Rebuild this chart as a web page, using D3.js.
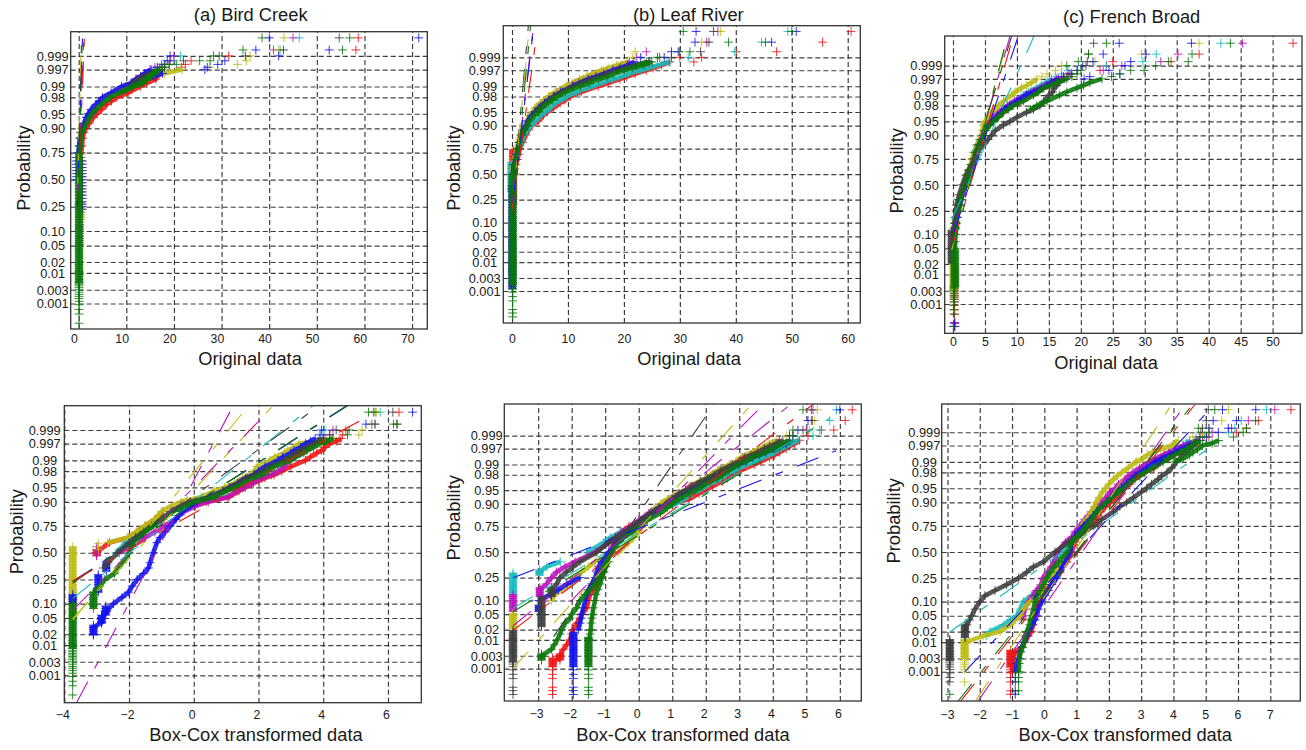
<!DOCTYPE html>
<html>
<head>
<meta charset="utf-8">
<script src="https://cdn.jsdelivr.net/npm/d3@7"></script>
<style>
  html, body { margin: 0; background: #fff; }
  text { font-family: "Liberation Sans", Arial, sans-serif; fill: #1a1a1a; }
</style>
</head>
<body>
<svg id="chart" width="1306" height="750"></svg>
<script>
// plotting positions, high to low. Each series row is read from the top of its list.
const commonProbs = [.999,.9985,.998,.9975,.997,.996,.995,.994,.992,.99,.985,.98,.975,.97,.96,.95,.94,.92,.90,.88,.85,.80,.75,.70,.65,.60,.50,.40,.35,.30,.25,.20,.16,.13,.10,.07,.05,.04,.03,.02,.015,.01,.007,.005,.003,.002,.001,.0005,.0002];
const birdProbs = [.9998,.9994,...commonProbs];
const leafProbs = [.99992,.99976,.9994,...commonProbs];
const frenchProbs = [.99988,.99965,.9993,...commonProbs];

// finer plotting positions, used where a series has long runs of tied values
const tiedProbs = [.00008,.00012,.00017,.0004,.0006,.0009,.0012,.0015,.0018,.0021,.0025,.003,.0035,.004,.0045,.005,.0056,.0063,.007,.008,.009,.01,.011,.012,.0135,.015,.017,.019,.021,.024,.027,.03,.034,.038,.042,.047,.052,.058,.065,.072,.08,.09,.10,.11,.12,.13,.145,.16,.175,.19,.21,.23,.25,.27,.29,.32,.35,.38,.41,.44,.47,.50,.53,.56,.59,.62,.65,.68,.71,.74];

const probTicks = ["0.999","0.997","0.99","0.98","0.95","0.90","0.75","0.50","0.25","0.10","0.05","0.02","0.01","0.003","0.001"];

// (a) Bird Creek, original data
const birdOrig = [
  ["r",[58.7,58.2,31.5,23.6,22.4,21.6,17.5,17,16.4,16.2,14.3,12.9,10.4,8,6.9,5.9,4.8,3.8,3.1,2.2,1.5,1.1,.85,.7,.55]],
  ["c",[46.3,42.3,21.4,20,18.2,17,15.8,14.8,13.8,12.6,11.5]],
  ["m",[45,40.9,20,19.2,17.4,16,15,14,13,12.2,11,9.8,7.4,5.6,4.7,4.2,3.5,3,2]],
  ["y",[43.1,42,36,35.2,33.3,27.5,21.7,18,14.5,13.6,12,10,7.5,5.5,4.6,3.8,2.8,2.1,1.7,1.2,.8,.5,.3,.2,.1]],
  ["b",[40,37.2,19.2,18.6,18,16.5,15.2,13.8,13,12,11,9,6.8,5,4.3,3.6,2.6,2,1.6,1.1,.7,.4,.25,.05,-.1]],
  ["b",[71.4,52.6,42,30.7,29.2,27,26.5,17.6,15.8,14,12.4,11]],
  ["k",[54.7,43,35,22,19,18,17,15,13.5,12.4,11.5,10.8]],
  ["g",[38.5,34.5,28.3,25.4,20.5,17.5,16.5,15.6,15,14.2,12.8,11.2,8.6,6.6,5.6,4.8,3.6,2.8,2.3,1.6,1.1,.7,.5,.35,.2]],
  ["g",[56.9,55.4,29.5,27.6,19,18,17,16,15.2,14.4,13.5,11.5,9]]
];
const birdOrigTies = [["r",.45,.2,.74],["b",-.45,.5,.72],["b",.75,.22,.7],["c",.1,.2,.7],["y",.4,.15,.7],["m",.2,.05,.25],["g",.07,.005,.74,1],["g",.07,.00017,.005]];
const birdOrigLines = [["m",-.28,-.76,1.12,3.72],["k",-.14,-.84,.63,3.72],["r",-.21,-.67,1.26,3.72],["y",-.28,-.51,.49,3.24],["b",-.28,-.67,.84,3.72],["g",-.07,-.84,.77,3.72]];

// (a) Bird Creek, transformed data
const birdBox = [
  ["r",[6.34,6.29,4.7,4.6,4.55,4.4,4.2,4.05,3.95,3.8,3.6,3.45,3,2.72,2.48,2.2,1.85,1.6,1.4,1.09,.4,-.1,-.95,-1.2,-1.5,-1.75,-2,-2.6,-3.02]],
  ["c",[5.76,5.6,4.05,4,3.9,3.75,3.6,3.45,3.25,3.15,2.9,2.75,2.3,2.2,1.95,1.75,1.5,1.2,.95,.55,0,-.35,-.7,-1,-1.3,-1.6,-1.85,-2.1,-2.4]],
  ["m",[5.55,5.5,4.3,4.2,4.05,3.9,3.75,3.6,3.4,3.3,3.1,2.95,2.8,2.6,2.4,2.1,1.8,1.55,1.35,1.05,.45,.05,-.3,-.6,-.9,-1.2,-1.5,-1.8,-2.3]],
  ["y",[5.65,5.5,5.2,5.1,4.3,3.9,3.25,3.1,2.9,2.8,2.5,2.35,1.95,1.87,1.72,1.51,1.26,.95,.64,.23,-.39,-.7,-1,-1.22,-1.52,-1.78,-2.05,-2.66]],
  ["b",[6.76,5.32,3.95,3.9,3.75,3.6,3.45,3.3,3.1,3,2.75,2.6,2.2,2,1.85,1.6,1.35,1.1,.9,.5,.1,-.1,-.35,-.55,-.73,-.88,-1.04,-1.14,-1.25,-1.35,-1.4,-1.55,-1.75,-1.9,-2.02,-2.22,-2.48,-2.69,-2.84,-2.84,-3.1,-3.1]],
  ["k",[6.15,5.6,4.4,4.2,4,3.85,3.7,3.5,3.3,3.15,2.95,2.8,2.35,2.1,1.9,1.65,1.4,1.15,.9,.5,-.1,-.4,-.7,-1,-1.3,-1.55,-1.8,-2,-2.35,-2.65,-2.8]],
  ["g",[5.4,6.17,4.8,4.75,4.3,4.1,3.9,3.7,3.5,3.4,3.15,3,2.5,2.3,2.1,1.85,1.55,1.3,1,.65,.05,-.3,-.65,-.95,-1.25,-1.5,-1.7,-1.85,-2,-2.2,-2.35,-2.45,-2.75,-2.9,-3.1]],
  ["g",[5.6,6.27]]
];
const birdBoxTies = [["y",-3.74,.05,.56,1],["c",-3.74,.1,.145,1],["b",-3.74,.1,.145,1],["g",-3.74,.008,.1,1],["g",-3.74,.00017,.008],["g",-3.1,.08,.16,1],["b",-2.95,.16,.29,1],["b",-2.7,.32,.41,1],["b",-3.1,.019,.034,1],["b",-2.85,.038,.058,1],["b",-2.72,.058,.09,1],["r",-3,.47,.53,1],["m",-3,.47,.56],["y",-2.95,.53,.59]];
const birdBoxLines = [["m",-3.61,-3.76,1.12,3.55],["y",-3.74,-1.7,1.59,3.6],["y",-3.74,-1.66,2.47,3.72],["m",-3.74,-1.45,2.15,3.43],["c",-3.74,-1.15,3.7,3.71],["k",-3.74,-.77,3.7,3.6],["b",-3.74,-.72,4.75,3.7],["g",-3.74,-.73,4.73,3.71],["r",-3.74,-.71,5.19,3.35]];

// (b) Leaf River, original data
const leafOrig = [
  ["r",[60.6,55.5,47.3,30,28.2,26.7,25.2,24,22,20.5,19.3,17.2,15.4,12.4,10.4,9.5,8.6,7.4,6.3,5.6,4.7,3.5,3,2.5,1.9,1.4,1.2,1,.7,.5]],
  ["r",[null,null,40.1,33.9,32.5]],
  ["c",[49.3,44.6,39.8,31.5,28,26,24.5,23,20.8,19.5,18,16,14.5,11.5,9.8,8.8,7.8,6.8,5.9,5.2,4.2,3.3,2.8,2.2,1.7,1.2,.9,.6,.2,-.1]],
  ["m",[36.8,34.8,24,22.3,21,19.5,18.2,17,15,14,12.8,11.2,10,8,6.8,6,5.4,4.4]],
  ["y",[37.3,33.9,22,21.5,20.5,18.7,17.2,16,14.2,13.3,12.1,10.7,9.5,7.7,6.5,5.7,5,4.1,3.7,3.1,2.6,2.3,1.8,1.4,1.1,.8,.6,.4,.2,-.1]],
  ["b",[32.9,32.7,29.7,23,21.8,20.6,19.3,18,16.4,15,13.6,12,10.8,8.7,7.4,6.5,5.8,4.8,4.1,3.5,2.8,2.5,2.1,1.7,1.3,1,.8,.6,.3,.1]],
  ["b",[50.8,46.4,28.5,27.2,24.5,22]],
  ["k",[36,35.2,33.7,28.5,24.5,22,20.5,19,17,15.8,14.2,12.6,11,9,7.6,6.8,6,5,4.3]],
  ["g",[30.6,45.3,29.9,26.4,25,23.5,21.5,20,18.2,17,15.5,13.8,12.2,9.6,8.2,7.2,6.5,5.4,4.8,4,3.1,2.8,2.3,1.8,1.4,1.1,.9,.7,.4,.2]],
  ["g",[50,38.7,31.8,26,24,22.5]]
];
const leafOrigTies = [["b",.05,.001,.4,1],["r",.2,.2,.74,1],["c",-.1,.3,.62,1],["g",.12,.0018,.5,1],["g",.12,.00008,.0018]];
const leafOrigLines = [["k",-.06,-1.04,2.92,3.92],["y",.12,-.86,3.1,3.95],["m",.12,-.68,3.69,3.73],["b",.12,-.77,3.81,3.81],["r",-.06,-1.04,4.4,3.68],["g",.12,-1.04,3.33,3.95]];

// (b) Leaf River, transformed data
const leafBox = [
  ["r",[6.37,6.16,5.82,5.05,4.8,4.65,4.5,4.4,4.2,4.05,3.9,3.65,3.45,3.05,2.8,2.65,2.5,2.2,2,1.8,1.5,1,.6,.35,.1,-.3,-.55,-.65,-.75,-.85,-.95,-1,-1.05,-1.15,-1.25,-1.35,-1.45,-1.5,-1.55,-1.7,-1.75,-1.85,-1.95,-2,-2.05,-2.15,-2.25,-2.35,-2.45]],
  ["r",[null,null,5.45]],
  ["c",[5.9,5.7,5.4,5.2,4.75,4.55,4.4,4.25,4.05,3.9,3.7,3.45,3.25,2.85,2.6,2.45,2.3,2,1.8,1.6,1.35,1.1,.8,.5,.1,-.2,-.55,-.85,-1.05,-1.55,-2.34,-2.74,-2.96]],
  ["m",[5.2,5.15,5,4.5,4.2,4,3.85,3.7,3.5,3.3,3.1,2.95,2.75,2.4,2.2,2.05,1.85,1.55,1.4,1.2,.9,.7,.5,.3,0,-.25,-.5,-.7,-.9,-1.3,-1.9,-2.2,-2.45,-2.6,-2.75,-2.95]],
  ["y",[5.33,5.25,5.1,4.4,4.1,3.9,3.75,3.6,3.4,3.2,3.05,2.9,2.7,2.35,2.15,2,1.8,1.5,1.4,1.15,.85,.65,.5,.35,.2,.1,0,-.15,-.3,-.6,-1.3,-1.5,-1.7,-1.9,-2.05,-2.3,-2.5,-2.6]],
  ["b",[6,5.05,4.75,4.6,4.5,4.4,4.2,4.05,3.8,3.6,3.4,3.2,3,2.6,2.4,2.2,2,1.75,1.55,1.3,1,.8,.6,.4,.1,-.1,-.3,-.5,-.65,-.9,-1.1,-1.2,-1.25,-1.3,-1.4,-1.5,-1.55,-1.6,-1.65,-1.7,-1.72,-1.75,-1.8]],
  ["b",[-1.75,-2.14,-2.4,-2.64,-2.98],.25],
  ["k",[5.15,5.18,4.9,4.5,4.3,4.1,3.9,3.75,3.55,3.35,3.15,3,2.8,2.45,2.25,2.05,1.85,1.6,1.4,1.2,1,.8,.6,.35,.05,-.2,-.45,-.7,-.9,-1.25,-1.75,-1.95,-2.15,-2.35,-2.45,-2.6]],
  ["g",[4.9,null,4.6,4.6,4.5,4.3,4.15,4,3.8,3.6,3.4,3.2,3,2.7,2.5,2.35,2.15,1.9,1.7,1.5,1.2,1,.85,.65,.25,0,-.2,-.45,-.6,-.8,-.95,-1.05,-1.1,-1.15,-1.3,-1.45,-1.6,-1.75,-1.85,-2,-2.05,-2.2,-2.3,-2.35,-2.43,-2.52,-2.6,-2.9]],
  ["g",[-.9,-.98,-1.03,-1.1,-1.15,-1.22,-1.28,-1.3,-1.35,-1.38,-1.4,-1.42,-1.43,-1.45,-1.47],.40]
];
const leafBoxTies = [["c",-3.75,.13,.29,1],["c",-2.96,.27,.33,1],["m",-3.75,.056,.13,1],["m",-2.95,.12,.175,1],["y",-3.75,.02,.052,1],["b",-2.98,.056,.085,1],["k",-2.9,.024,.12,1],["k",-2.6,.12,.175,1],["k",-3.75,.0018,.02,1],["k",-3.75,.00008,.0018],["r",-2.57,.0012,.0025,1],["r",-2.57,.00008,.0012],["r",-2.35,.002,.0036,1],["b",-1.95,.0012,.018,1],["b",-1.95,.00008,.0012],["g",-2.9,.002,.0035,1],["g",-1.5,.0012,.012,1],["g",-1.5,.00008,.0012]];
const leafBoxLines = [["k",-2.54,-2.24,2.27,3.95],["y",-3.75,-3.08,3.36,3.91],["m",-2.04,-1.31,3.61,3.82],["m",-3.75,-1.95,4.45,3.86],["r",-3.75,-2.07,5.25,3.95],["g",-3.75,-1.58,5.4,3.38],["c",-3.75,-1.49,5.7,3.55],["b",-3.75,-.68,5.89,2.69]];

// (c) French Broad, original data
const frenchOrig = [
  ["r",[53.2,38.5,25,24,23,18.5,17.8,17,15.8,15,14.2,13,12,10.5,9.3,8.5,7.8,7,6.2,5.6,5,4.6,4.2,3.8,3.3,3,2.8,2.5,2.2,1.8,1.3,1.1,.9,.7,.5,.4]],
  ["r",[null,null,34.1]],
  ["c",[41.9,31.8,29.7,24,18,17,16,15.4,14.5,13.8,13,11.8,11,9.6,8.6,7.8,7.2,6.6,5.9,5.4,4.9,4.5,4.2,3.8,3.2]],
  ["m",[45.3,35.2,32.5,26.4,23.5,18,17,16.2,15.2,14.4,13.6,12.2,11.3,9.6,8.5,7.7,7.1,6.3,5.8,5.2]],
  ["y",[38.5,29.5,22.2,17,16,14.7,13.9,13.1,12.3,11.5,10.7,9.7,9.2,7.9,7.1,6.6,6,5.5,5,4.7,4.6,4.4,4.1,3.7,3.3,3,2.8,2.5,2.2,1.8,1.3]],
  ["b",[26,23.5,21.9,20.3,19.4,18.3,17.3,16.5,15.4,14.7,13.9,12.6,11.5,10,8.9,8.1,7.6,6.8,6,5.5,5,4.7,4.4,4,3.6,3.4,3.1,2.8,2.5,2.1,1.5,1.3,1.1,.9,.6,.4,.3,.25]],
  ["b",[37.3,30.2,27.8,26.9,24.4,26.1,21.4,20.5]],
  ["k",[22,21.2,21,20.8,19.5,18.6,18,17.4,16.6,16.2,15.8,15.6,15,14.2,13.6,12.6,11.5,10,8.9,7.9,6.6,6,5.5,4.7,3.8,3.4,2.9,2.4,2,1.45,.95,.75,.55,.45,.3,.2,.15,.1,.05,0]],
  ["g",[24,21.2,19.6,17.8,20,19.4,18.6,17.8,16.2,15.2,14.1,13.4,12.6,11,9.4,8.7,7.9,7.1,6.3,5.8,5,4.8,4.4,4.1,3.5,3.3,3,2.7,2.4,1.9,1.4,1.2,1,.85,.7,.55,.45,.4,.35,.33]],
  ["g",[43.4,37.4,36.8,31.7,29.9,26.1,24.8,23.3,21.4,20.4,19.4,17.8,16.7,14.7,13.1,12.1]],
  ["g",[null,null,33.7,null,27.8]]
];
const frenchOrigTies = [["k",-.2,.02,.12,1],["y",.1,.003,.03,1],["r",.25,.00012,.02],["m",.2,.00012,.00017],["b",.3,.00012,.00017],["g",.3,.004,.05,1],["g",.15,.0004,.004],["g",.05,.00012,.00012]];
const frenchOrigLines = [["y",-.2,-1.69,8.66,3.87],["m",.05,-1.26,8.92,3.86],["r",.05,-1.52,9.44,3.86],["b",.05,-1.26,10.2,3.86],["c",-.2,-.91,12.68,3.86],["k",.05,-1.08,9.18,3.86],["g",.05,-1.65,8.5,3.86]];

// (c) French Broad, transformed data
const frenchBox = [
  ["r",[7.64,6.63,6.26,5.95,5.1,4.8,4.7,4.55,4.4,4.15,4,3.85,3.6,3.4,3.1,2.9,2.75,2.65,2.5,2.35,2.2,2.05,1.9,1.75,1.6,1.4,1.2,1.05,.95,.85,.7,.5,.4,.3,.2,.05,-.1,-.15,-.25,-.28,-.32,-.35,-.4,-.5,-.6,-.7,-.9,-.96,-1,-1]],
  ["c",[6.88,6.1,5.9,5.7,4.7,4.5,4.4,4.3,4.05,3.9,3.75,3.55,3.35,3.05,2.85,2.7,2.6,2.45,2.3,2.15,2,1.85,1.7,1.55,1.4,1.2,1.05,.9,.8,.5,.4,.35,.3,.2,-.1,-.2,-.4,-.65,-.75,-.85,-1.05,-1.25,-1.68,-1.8]],
  ["m",[7.14,6.32,5.8,5.2,4.9,4.7,4.5,4.3,4.05,3.85,3.7,3.45,3.25,2.95,2.75,2.6,2.5,2.3,2.2,2.05,1.9,1.75,1.6,1.45,1.25,1.1,.95,.85,.65,.4,.3,.2,.1,-.05,-.1,-.25,-.35,-.5,-.6,-.65,-.7]],
  ["y",[5.7,5.5,5.1,4.9,4.6,4.15,4.05,3.95,3.6,3.35,3.2,3.05,2.85,2.6,2.4,2.25,2.15,2,1.9,1.8,1.7,1.6,1.55,1.45,1.3,1.15,1.1,1,.9,.7,.5,.4,.3,.15,-.05,-.1,-.15,-.45,-.65,-.75,-.9,-1.06,-1.37,-1.9,-2.45]],
  ["b",[5.52,5.23,5.1,5.39,5.03,4.82,4.66,4.46,4.2,4.05,3.89,3.63,3.43,3.17,2.96,2.81,2.7,2.55,2.39,2.24,2.08,1.93,1.78,1.62,1.41,1.21,1.05,.95,.85,.8,.65,.55,.49,.38,.23,.12,.02,-.08,-.19,-.24,-.29,-.37,-.5,-.55,-.63,-.7,-.75,-.8,-.86,-.89]],
  ["b",[6.55,5.95,5.7]],
  ["k",[5.08,5.02,4.9,4.85,4.8,4.75,4.7,4.6,4.5,4.4,4.3,4.2,4.1,3.95,3.8,3.63,3.53,3.32,3.17,3.01,2.76,2.55,2.34,2.14,1.78,1.52,1.26,1,.74,.33,-.03,-.34,-.55,-.8,-1.17,-1.53,-1.84,-2,-2.15,-2.25,-2.32,-2.4,-2.45]],
  ["g",[5.28,6.54,4.77,5.1,4.95,4.82,4.66,4.56,4.4,4.2,4.05,3.84,3.68,3.37,3.12,2.96,2.81,2.6,2.45,2.29,2.08,1.93,1.78,1.62,1.47,1.31,1.16,1,.85,.7,.45,.3,.18,.07,-.03,-.13,-.24,-.29,-.34,-.39,-.44,-.46,-.55,-.6,-.63,-.67,-.73,-.77,-.78,-.79]],
  ["g",[null,null,6.26,6.16,5.86,5.4,5.2,4.9,4.75,4.6,4.5,4.3,4.05]]
];
const frenchBoxTies = [["k",-2.46,.013,.03,1],["k",-2.93,.0025,.0125,1],["k",-2.93,.0003,.0025],["y",-2.47,.003,.0125,1],["y",-2.47,.0012,.003],["y",-2.47,.0004,.0004],["r",-1.05,.0015,.006,1],["r",-1.05,.00012,.0015],["b",-.9,.00012,.0008],["g",-.8,.00017,.001],["g",-2.93,.00012,.00012]];
const frenchBoxLines = [["c",-2.92,-2.06,5.03,2.64],["b",-2.46,-3.09,5.03,3.59],["g",-2.69,-3.87,4.51,3.72],["r",-2.61,-3.87,4.66,3.8],["m",-2.04,-3.83,4.36,3.8],["y",-2.12,-3.83,3.94,3.8],["k",-.24,-1.37,4.05,3.28]];

const colors = { r: "#f01414", c: "#14bcbc", m: "#bc14bc", y: "#bcbc14", b: "#1414f0", k: "#404040", g: "#0a780a" };
const drawOrder = ["r", "c", "m", "y", "b", "k", "g"];

const panels = [
  { title: "(a) Bird Creek", titleX: 250.7, titleY: 20.7, probs: birdProbs, rows: birdOrig, ties: birdOrigTies, lines: birdOrigLines, bandTop: .997,
    xLabel: "Original data", xLabelX: 250, xLabelY: 365, yLabelX: 30, yLabelY: 168, tickLabelX: 52.7, xTickY: 342.7, xTickShift: -4.7,
    box: [70.7, 427.3, 31.7, 329], xDomain: [-1.68, 73.2], zDomain: [-3.727, 3.694], xTicks: [0,10,20,30,40,50,60,70] },
  { probs: birdProbs, rows: birdBox, ties: birdBoxTies, lines: birdBoxLines, bandTop: .998,
    xLabel: "Box-Cox transformed data", xLabelX: 256, xLabelY: 740.7, yLabelX: 22.7, yLabelY: 531.7, tickLabelX: 44.7, xTickY: 719, xTickShift: -2,
    box: [64.3, 421.3, 405.7, 702.7], xDomain: [-4, 7.03], zDomain: [-3.778, 3.703], xTicks: [-4,-2,0,2,4,6] },
  { title: "(b) Leaf River", titleX: 688.3, titleY: 20.7, probs: leafProbs, rows: leafOrig, ties: leafOrigTies, lines: leafOrigLines, bandTop: .9985,
    xLabel: "Original data", xLabelX: 689, xLabelY: 365, yLabelX: 460, yLabelY: 168, tickLabelX: 484.7, xTickY: 343.3, xTickShift: 0,
    box: [503.3, 860.3, 25.7, 323], xDomain: [-1.555, 62.25], zDomain: [-3.938, 3.927], xTicks: [0,10,20,30,40,50,60] },
  { probs: leafProbs, rows: leafBox, ties: leafBoxTies, lines: leafBoxLines, bandTop: .9985,
    xLabel: "Box-Cox transformed data", xLabelX: 683, xLabelY: 740.7, yLabelX: 460, yLabelY: 517.8, tickLabelX: 486.7, xTickY: 718.3, xTickShift: -2,
    box: [504.3, 861.3, 404, 701], xDomain: [-4.01, 6.64], zDomain: [-3.947, 3.93], xTicks: [-3,-2,-1,0,1,2,3,4,5,6] },
  { title: "(c) French Broad", titleX: 1131.7, titleY: 22.7, probs: frenchProbs, rows: frenchOrig, ties: frenchOrigTies, lines: frenchOrigLines, bandTop: .997,
    xLabel: "Original data", xLabelX: 1106, xLabelY: 369, yLabelX: 903.3, yLabelY: 170.8, tickLabelX: 926.3, xTickY: 345.7, xTickShift: 0,
    box: [944.7, 1302, 36, 333.3], xDomain: [-1.3, 54.6], zDomain: [-3.85, 3.86], xTicks: [0,5,10,15,20,25,30,35,40,45,50] },
  { probs: frenchProbs, rows: frenchBox, ties: frenchBoxTies, lines: frenchBoxLines, bandTop: .998,
    xLabel: "Box-Cox transformed data", xLabelX: 1125.3, xLabelY: 740.7, yLabelX: 900, yLabelY: 520.8, tickLabelX: 924.3, xTickY: 719, xTickShift: -.5,
    box: [941.7, 1300.3, 404, 701], xDomain: [-3.18, 7.93], zDomain: [-3.846, 3.82], xTicks: [-3,-2,-1,0,1,2,3,4,5,6,7] }
];

// inverse normal CDF (Acklam), the y axis is linear in normal score
function probit(p) {
  const a = [-3.969683028665376e+01, 2.209460984245205e+02, -2.759285104469687e+02, 1.383577518672690e+02, -3.066479806614716e+01, 2.506628277459239e+00];
  const b = [-5.447609879822406e+01, 1.615858368580409e+02, -1.556989798598866e+02, 6.680131188771972e+01, -1.328068155288572e+01];
  const c = [-7.784894002430293e-03, -3.223964580411365e-01, -2.400758277161838e+00, -2.549732539343734e+00, 4.374664141464968e+00, 2.938163982698783e+00];
  const d = [7.784695709041462e-03, 3.224671290700398e-01, 2.445134137142996e+00, 3.754408661907416e+00];
  const tail = q => (((((c[0]*q+c[1])*q+c[2])*q+c[3])*q+c[4])*q+c[5]) / ((((d[0]*q+d[1])*q+d[2])*q+d[3])*q+1);
  if (p < 0.02425) return tail(Math.sqrt(-2 * Math.log(p)));
  if (p > 1 - 0.02425) return -tail(Math.sqrt(-2 * Math.log(1 - p)));
  const q = p - 0.5, r = q * q;
  return (((((a[0]*r+a[1])*r+a[2])*r+a[3])*r+a[4])*r+a[5]) * q / (((((b[0]*r+b[1])*r+b[2])*r+b[3])*r+b[4])*r+1);
}

const svg = d3.select("#chart");
const maxGap = 28; // px, points closer than this read as a solid band in the source

panels.forEach((panel, i) => {
  const [left, right, top, bottom] = panel.box;
  const x = d3.scaleLinear().domain(panel.xDomain).range([left, right]);
  const y = d3.scaleLinear().domain(panel.zDomain).range([bottom, top]);
  const px = d => [x(d.x), y(probit(d.p))];
  const g = svg.append("g");

  g.append("clipPath").attr("id", "clip" + i).append("rect")
    .attr("x", left).attr("y", top).attr("width", right - left).attr("height", bottom - top);

  // Grid and tick labels
  const xAxis = g.append("g").attr("transform", `translate(0,${bottom})`)
    .call(d3.axisBottom(x).tickValues(panel.xTicks).tickSize(top - bottom).tickFormat(d3.format("d")));
  xAxis.selectAll("text")
    .attr("x", panel.xTickShift).attr("y", panel.xTickY - bottom).attr("dy", 0)
    .style("font-size", "12.3px");

  const yAxis = g.append("g").attr("transform", `translate(${left},0)`)
    .call(d3.axisLeft(y).tickValues(probTicks.map(d => probit(+d))).tickSize(left - right).tickFormat((d, k) => probTicks[k]));
  yAxis.selectAll("text")
    .attr("x", panel.tickLabelX - left).attr("dy", "0.33em").attr("text-anchor", "middle")
    .style("font-size", "12.8px");

  g.selectAll(".domain").remove();
  g.selectAll(".tick line")
    .attr("stroke", "#262626").attr("stroke-width", 1.15).attr("stroke-dasharray", "5,3").attr("opacity", 0.9);

  // Ranked points, runs of tied values, and the solid parts of both
  const marks = [];
  const bands = [];
  panel.rows.forEach(([key, values, startProb]) => {
    const start = startProb === undefined ? 0 : panel.probs.indexOf(startProb);
    let run = [];
    values.forEach((v, k) => {
      if (v === null) return;
      const d = { key, x: v, p: panel.probs[start + k] };
      marks.push(d);
      if (d.p > panel.bandTop) return;
      const prev = run[run.length - 1];
      if (prev && Math.hypot(px(d)[0] - px(prev)[0], px(d)[1] - px(prev)[1]) > maxGap) {
        if (run.length > 1) bands.push({ key, points: run, width: 4.6 });
        run = [];
      }
      run.push(d);
    });
    if (run.length > 1) bands.push({ key, points: run, width: 4.6 });
  });
  panel.ties.forEach(([key, v, lo, hi, solid]) => {
    const run = tiedProbs.filter(p => p >= lo && p <= hi).map(p => ({ key, x: v, p }));
    run.forEach(d => marks.push(d));
    if (solid) bands.push({ key, points: run, width: 7.6 });
  });

  const plot = g.append("g").attr("clip-path", `url(#clip${i})`);
  const bandLine = d3.line().x(d => px(d)[0]).y(d => px(d)[1]);
  const layers = plot.selectAll(".series")
    .data(drawOrder)
    .enter()
    .append("g")
    .attr("class", "series");

  layers.selectAll(".band")
    .data(k => bands.filter(b => b.key === k))
    .enter()
    .append("path")
    .attr("class", "band")
    .attr("d", d => bandLine(d.points))
    .attr("fill", "none")
    .attr("stroke", d => colors[d.key])
    .attr("stroke-width", d => d.width)
    .attr("stroke-linejoin", "round")
    .attr("opacity", 0.88);

  layers.selectAll(".mark")
    .data(k => marks.filter(m => m.key === k))
    .enter()
    .append("path")
    .attr("class", "mark")
    .attr("d", "M-4.4,0H4.4M0,-4.4V4.4")
    .attr("transform", d => `translate(${px(d)[0]},${px(d)[1]})`)
    .attr("fill", "none")
    .attr("stroke", d => colors[d.key])
    .attr("stroke-width", 1)
    .attr("opacity", 0.85);

  // Fitted normal lines
  const line = d3.line().x(d => x(d[0])).y(d => y(d[1]));
  plot.selectAll(".fit")
    .data(panel.lines)
    .enter()
    .append("path")
    .attr("class", "fit")
    .attr("d", d => line([[d[1], d[2]], [d[3], d[4]]]))
    .attr("fill", "none")
    .attr("stroke", d => colors[d[0]])
    .attr("stroke-width", 1.1)
    .attr("stroke-dasharray", "23,15,8,15");

  g.append("rect")
    .attr("x", left).attr("y", top).attr("width", right - left).attr("height", bottom - top)
    .attr("fill", "none").attr("stroke", "#333").attr("stroke-width", 1.3);

  // Titles
  if (panel.title) {
    g.append("text").attr("x", panel.titleX).attr("y", panel.titleY)
      .attr("text-anchor", "middle").style("font-size", "18.3px").text(panel.title);
  }
  g.append("text").attr("x", panel.xLabelX).attr("y", panel.xLabelY)
    .attr("text-anchor", "middle").style("font-size", "18.3px").text(panel.xLabel);
  g.append("text").attr("transform", `translate(${panel.yLabelX},${panel.yLabelY}) rotate(-90)`)
    .attr("text-anchor", "middle").style("font-size", "18.3px").text("Probability");
});
</script>
</body>
</html>
